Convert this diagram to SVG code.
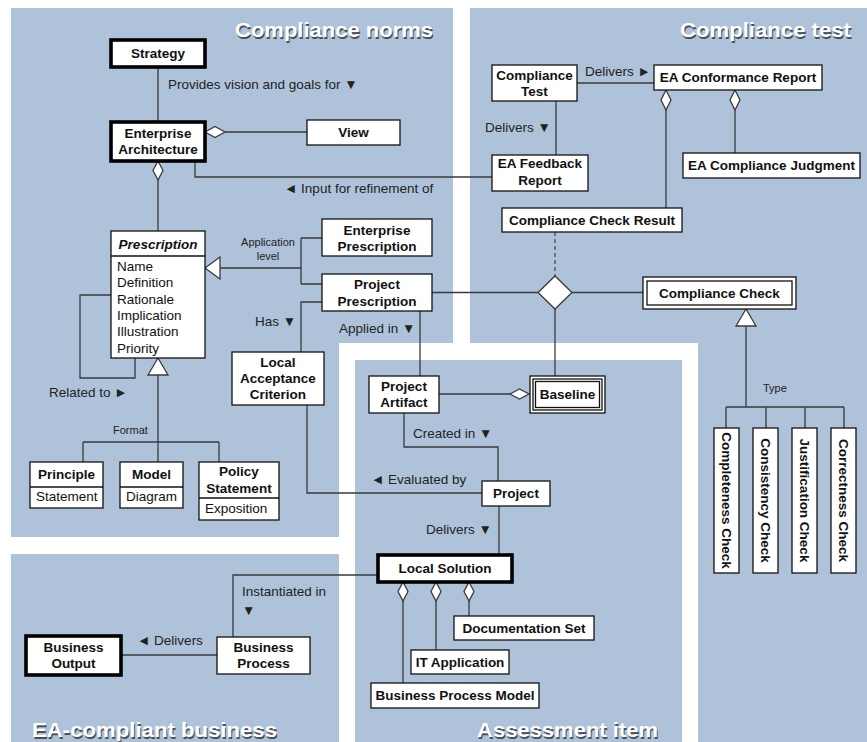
<svg xmlns="http://www.w3.org/2000/svg" width="867" height="742" viewBox="0 0 867 742">
<style>
.panel{fill:#aec3da}
.box{fill:#fff;stroke:#111;stroke-width:1.3}
.thick{fill:#fff;stroke:#000;stroke-width:3.6}
.ln{fill:none;stroke:#3a3a3a;stroke-width:1.3}
.dash{fill:none;stroke:#4a4a4a;stroke-width:1.3;stroke-dasharray:4,3}
.hd{fill:#fff;stroke:#3a3a3a;stroke-width:1.3}
text{font-family:"Liberation Sans",Arial,Helvetica,sans-serif;fill:#111}
.t{font-size:13.5px;font-weight:bold;text-anchor:middle}
.ti{font-size:13.5px;font-weight:bold;font-style:italic;text-anchor:middle}
.a{font-size:13.5px}
.l{font-size:13.5px;fill:#222}
.s{font-size:11px;fill:#222}
.sc{font-size:11px;fill:#222;text-anchor:middle}
.tt{font-size:21px;font-weight:bold;fill:#fff}
.ts{font-size:21px;font-weight:bold;fill:#4a4f58}
</style>

<!-- panels -->
<g id="panels">
<path class="panel" d="M11,8 H453 V343 H339 V537 H11 Z"/>
<path class="panel" d="M470,8 H867 V742 H698 V343 H470 Z"/>
<path class="panel" d="M11,554 H339 V742 H11 Z"/>
<path class="panel" d="M355,360 H682 V742 H355 Z"/>
</g>

<g id="titles">
<text class="ts" x="236" y="38.5" textLength="198" lengthAdjust="spacingAndGlyphs">Compliance norms</text>
<text class="tt" x="235" y="37" textLength="198" lengthAdjust="spacingAndGlyphs">Compliance norms</text>
<text class="ts" x="681" y="38.5" textLength="171" lengthAdjust="spacingAndGlyphs">Compliance test</text>
<text class="tt" x="680" y="37" textLength="171" lengthAdjust="spacingAndGlyphs">Compliance test</text>
<text class="ts" x="33" y="738.5" textLength="245" lengthAdjust="spacingAndGlyphs">EA-compliant business</text>
<text class="tt" x="32" y="737" textLength="245" lengthAdjust="spacingAndGlyphs">EA-compliant business</text>
<text class="ts" x="478" y="738.5" textLength="181" lengthAdjust="spacingAndGlyphs">Assessment item</text>
<text class="tt" x="477" y="737" textLength="181" lengthAdjust="spacingAndGlyphs">Assessment item</text>
</g>

<!-- connectors -->
<g id="connectors">
<path class="ln" d="M158,67 V122"/>
<path class="ln" d="M225,132 H307"/>
<polygon class="hd" points="205,132 215,126.5 225,132 215,137.5"/>
<path class="ln" d="M158,180 V231"/>
<polygon class="hd" points="158,161 163,170.5 158,180 153,170.5"/>
<path class="ln" d="M195,161 V177 H492"/>
<path class="ln" d="M220,268 H301 M301,238 V284 M301,238 H322 M301,284 H322"/>
<polygon class="hd" points="205,268 220,257 220,279"/>
<path class="ln" d="M322,302 H301 V352"/>
<path class="ln" d="M420,311 V376"/>
<path class="ln" d="M432,292.5 H538"/>
<path class="ln" d="M572,292.5 H643"/>
<path class="ln" d="M555,309 V376"/>
<path class="dash" d="M555,232 V276"/>
<polygon class="hd" points="538,292.5 555,276 572,292.5 555,309"/>
<path class="ln" d="M577,83 H654"/>
<path class="ln" d="M556,101 V155"/>
<path class="ln" d="M666,110 V208"/>
<polygon class="hd" points="666,90 671,100 666,110 661,100"/>
<path class="ln" d="M735,110 V153"/>
<polygon class="hd" points="735,90 740,100 735,110 730,100"/>
<path class="ln" d="M439,394 H510"/>
<polygon class="hd" points="510,394 519.5,389 529,394 519.5,399"/>
<path class="ln" d="M404,413 V447 H498 V481"/>
<path class="ln" d="M307,405 V493 H482"/>
<path class="ln" d="M499,506 V555"/>
<path class="ln" d="M378,575 H233 V637"/>
<path class="ln" d="M403,601 V683"/>
<polygon class="hd" points="403,582 408,591.5 403,601 398,591.5"/>
<path class="ln" d="M436,601 V650"/>
<polygon class="hd" points="436,582 441,591.5 436,601 431,591.5"/>
<path class="ln" d="M469,601 V616"/>
<polygon class="hd" points="469,582 474,591.5 469,601 464,591.5"/>
<path class="ln" d="M121,655 H217"/>
<path class="ln" d="M158,375 V462 M83,442 H219 M83,442 V462 M219,442 V462"/>
<polygon class="hd" points="158,358 148,375 168,375"/>
<path class="ln" d="M111,295 H80 V378 H135 V358"/>
<path class="ln" d="M746,326 V407 M726,407 H844 M726,407 V428 M766,407 V428 M805,407 V428 M844,407 V428"/>
<polygon class="hd" points="746,309 736,326 756,326"/>
</g>

<!-- connector labels -->
<g id="labels">
<text class="l" x="168" y="89">Provides vision and goals for  ▼</text>
<text class="l" x="284" y="193">◄ Input for refinement of</text>
<text class="l" x="485" y="132">Delivers ▼</text>
<text class="l" x="585" y="76">Delivers ►</text>
<text class="sc" x="268" y="246">Application</text>
<text class="sc" x="268" y="260">level</text>
<text class="l" x="255" y="326">Has ▼</text>
<text class="l" x="339" y="333">Applied in ▼</text>
<text class="l" x="49" y="397">Related to ►</text>
<text class="s" x="113" y="434">Format</text>
<text class="l" x="413" y="438">Created in ▼</text>
<text class="l" x="371" y="484">◄ Evaluated by</text>
<text class="l" x="426" y="534">Delivers ▼</text>
<text class="l" x="242" y="596">Instantiated in</text>
<text class="l" x="242" y="615">▼</text>
<text class="l" x="137" y="645">◄ Delivers</text>
<text class="s" x="763" y="392">Type</text>
</g>

<!-- nodes -->
<g id="strategy"><rect class="thick" x="111" y="40" width="94" height="27"/><text class="t" x="158" y="58">Strategy</text></g>
<g id="enterprise-architecture"><rect class="thick" x="111" y="122" width="94" height="39"/><text class="t" x="158" y="138">Enterprise</text><text class="t" x="158" y="154">Architecture</text></g>
<g id="view"><rect class="box" x="307" y="120" width="93" height="25"/><text class="t" x="353.5" y="137">View</text></g>
<g id="prescription"><rect class="box" x="111" y="231" width="94" height="127"/><line class="box" x1="111" y1="256" x2="205" y2="256"/><text class="ti" x="158" y="249">Prescription</text>
<text class="a" x="117" y="271">Name</text><text class="a" x="117" y="287">Definition</text><text class="a" x="117" y="303.5">Rationale</text><text class="a" x="117" y="320">Implication</text><text class="a" x="117" y="336">Illustration</text><text class="a" x="117" y="352.5">Priority</text></g>
<g id="enterprise-prescription"><rect class="box" x="322" y="219" width="110" height="37"/><text class="t" x="377" y="235">Enterprise</text><text class="t" x="377" y="251">Prescription</text></g>
<g id="project-prescription"><rect class="box" x="322" y="274" width="110" height="37"/><text class="t" x="377" y="289">Project</text><text class="t" x="377" y="305.5">Prescription</text></g>
<g id="local-acceptance-criterion"><rect class="box" x="232" y="352" width="92" height="53"/><text class="t" x="278" y="367">Local</text><text class="t" x="278" y="383">Acceptance</text><text class="t" x="278" y="399">Criterion</text></g>
<g id="principle"><rect class="box" x="30" y="462" width="73" height="46"/><line class="box" x1="30" y1="487" x2="103" y2="487"/><text class="t" x="66.5" y="479">Principle</text><text class="a" x="36" y="501">Statement</text></g>
<g id="model"><rect class="box" x="120" y="462" width="63" height="46"/><line class="box" x1="120" y1="487" x2="183" y2="487"/><text class="t" x="151.5" y="479">Model</text><text class="a" x="126" y="501">Diagram</text></g>
<g id="policy-statement"><rect class="box" x="199" y="462" width="80" height="58"/><line class="box" x1="199" y1="498" x2="279" y2="498"/><text class="t" x="239" y="476">Policy</text><text class="t" x="239" y="493">Statement</text><text class="a" x="205" y="513">Exposition</text></g>
<g id="compliance-test"><rect class="box" x="492" y="65" width="85" height="36"/><text class="t" x="534.5" y="80">Compliance</text><text class="t" x="534.5" y="96">Test</text></g>
<g id="ea-feedback-report"><rect class="box" x="492" y="155" width="96" height="36"/><text class="t" x="540" y="168">EA Feedback</text><text class="t" x="540" y="185">Report</text></g>
<g id="ea-conformance-report"><rect class="box" x="654" y="65" width="168" height="25"/><text class="t" x="738" y="82">EA Conformance Report</text></g>
<g id="ea-compliance-judgment"><rect class="box" x="683" y="153" width="177" height="25"/><text class="t" x="771.5" y="170">EA Compliance Judgment</text></g>
<g id="compliance-check-result"><rect class="box" x="502" y="208" width="180" height="24"/><text class="t" x="592" y="225">Compliance Check Result</text></g>
<g id="compliance-check"><rect class="box" x="643" y="277" width="153" height="32"/><rect class="box" x="647" y="281" width="145" height="24" stroke-width="1.5"/><text class="t" x="719.5" y="298">Compliance Check</text></g>
<g id="completeness-check"><rect class="box" x="714" y="428" width="25" height="145"/><text class="t" x="726.5" y="505" transform="rotate(90 726.5 500.5)">Completeness Check</text></g>
<g id="consistency-check"><rect class="box" x="753" y="428" width="25" height="145"/><text class="t" x="765.5" y="505" transform="rotate(90 765.5 500.5)">Consistency Check</text></g>
<g id="justification-check"><rect class="box" x="792" y="428" width="25" height="145"/><text class="t" x="804.5" y="505" transform="rotate(90 804.5 500.5)">Justification Check</text></g>
<g id="correctness-check"><rect class="box" x="831" y="428" width="25" height="145"/><text class="t" x="843.5" y="505" transform="rotate(90 843.5 500.5)">Correctness Check</text></g>
<g id="baseline"><rect class="box" x="530" y="376" width="75" height="37"/><rect class="box" x="533" y="379" width="69" height="31" stroke-width="1"/><rect class="box" x="535.5" y="381.5" width="64" height="26" stroke-width="1.2"/><text class="t" x="567.5" y="399">Baseline</text></g>
<g id="project-artifact"><rect class="box" x="369" y="376" width="70" height="37"/><text class="t" x="404" y="391">Project</text><text class="t" x="404" y="407">Artifact</text></g>
<g id="project"><rect class="box" x="482" y="481" width="68" height="25"/><text class="t" x="516" y="498">Project</text></g>
<g id="local-solution"><rect class="thick" x="378" y="555" width="134" height="27"/><text class="t" x="445" y="573">Local Solution</text></g>
<g id="documentation-set"><rect class="box" x="454" y="616" width="140" height="24"/><text class="t" x="524" y="633">Documentation Set</text></g>
<g id="it-application"><rect class="box" x="411" y="650" width="98" height="24"/><text class="t" x="460" y="667">IT Application</text></g>
<g id="business-process-model"><rect class="box" x="371" y="683" width="168" height="25"/><text class="t" x="455" y="700">Business Process Model</text></g>
<g id="business-process"><rect class="box" x="217" y="637" width="93" height="37"/><text class="t" x="263.5" y="652">Business</text><text class="t" x="263.5" y="668">Process</text></g>
<g id="business-output"><rect class="thick" x="26" y="636" width="95" height="39"/><text class="t" x="73.5" y="652">Business</text><text class="t" x="73.5" y="668">Output</text></g>
</svg>
